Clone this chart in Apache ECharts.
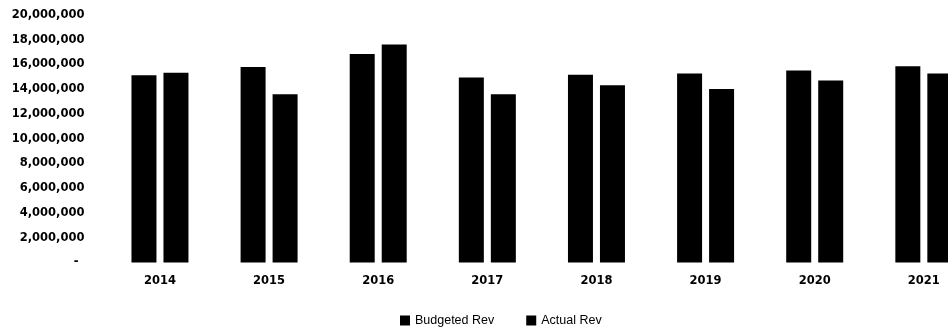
<!DOCTYPE html>
<html>
<head>
<meta charset="utf-8">
<script src="https://cdn.jsdelivr.net/npm/echarts@6/dist/echarts.min.js"></script>
<style>
html,body{margin:0;padding:0;background:#fff;overflow:hidden;width:948px;height:331px;}
#chart{width:984px;height:331px;}
</style>
</head>
<body>
<div id="chart"></div>
<script>
var categories = ['2014', '2015', '2016', '2017', '2018', '2019', '2020', '2021'];
var budgetedRev = [15140000, 15790000, 16840000, 14950000, 15170000, 15280000, 15520000, 15850000];
var actualRev = [15330000, 13600000, 17620000, 13600000, 14330000, 14030000, 14710000, 15280000];
var seriesNames = ['Budgeted Rev', 'Actual Rev'];

var axisFont = {fontFamily: 'DejaVu Sans', fontWeight: 'bold', fontSize: 11.5, color: '#000'};

var chart = echarts.init(document.getElementById('chart'), null, {renderer: 'canvas'});
chart.setOption({
  animation: false,
  backgroundColor: '#fff',
  grid: {left: 105.4, top: 15, width: 873, bottom: 68.5, containLabel: false},
  legend: {
    data: seriesNames,
    left: 395,
    top: 309,
    itemWidth: 10,
    itemHeight: 10,
    itemGap: 32,
    icon: 'rect',
    textStyle: {fontFamily: "'Liberation Sans', sans-serif", fontWeight: 'normal', fontSize: 12.5, color: '#000'}
  },
  xAxis: {
    type: 'category',
    data: categories,
    axisTick: {show: false},
    axisLine: {show: false},
    axisLabel: Object.assign({margin: 13}, axisFont)
  },
  yAxis: {
    type: 'value',
    min: 0,
    max: 20000000,
    interval: 2000000,
    splitLine: {show: false},
    axisLine: {show: false},
    axisTick: {show: false},
    axisLabel: Object.assign({
      margin: 21,
      formatter: function (v) {
        if (v === 0) return '{d|-}';
        return v.toLocaleString('en-US');
      },
      rich: {d: {fontFamily: 'DejaVu Sans', fontWeight: 'bold', fontSize: 11.5, color: '#000', padding: [0, 6, 0, 0]}}
    }, axisFont)
  },
  series: [
    {name: seriesNames[0], type: 'bar', data: budgetedRev, barWidth: 25, barGap: '28%', itemStyle: {color: '#000'}},
    {name: seriesNames[1], type: 'bar', data: actualRev, barWidth: 25, barGap: '28%', itemStyle: {color: '#000'}}
  ]
});
</script>
</body>
</html>
